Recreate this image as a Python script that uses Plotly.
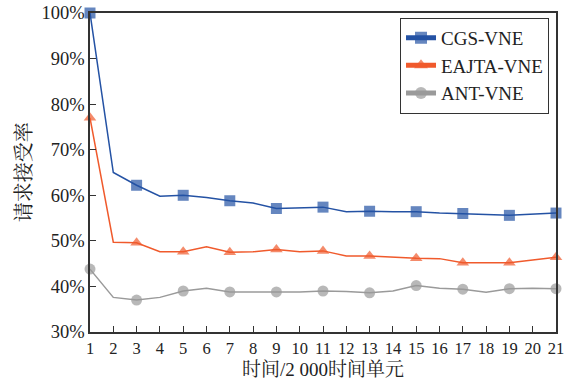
import plotly.graph_objects as go

x_vals = list(range(1, 22))
cgs = [100, 65, 62.2, 59.8, 60, 59.5, 58.8, 58.3, 57.1, 57.2, 57.4, 56.4, 56.5, 56.4, 56.4, 56.1, 56.0, 55.8, 55.6, 55.8, 56.1]
eajta = [77, 49.7, 49.6, 47.6, 47.6, 48.7, 47.5, 47.6, 48.1, 47.6, 47.8, 46.7, 46.7, 46.4, 46.2, 46.1, 45.2, 45.2, 45.2, 45.8, 46.4]
ant = [43.8, 37.6, 37.0, 37.6, 39.0, 39.6, 38.8, 38.8, 38.8, 38.8, 39.0, 38.9, 38.6, 39.0, 40.2, 39.6, 39.4, 38.7, 39.5, 39.6, 39.5]

names = ["CGS-VNE", "EAJTA-VNE", "ANT-VNE"]
colors = ["#2452a4", "#f05a2c", "#9a9a9a"]
symbols = ["square", "triangle-up", "circle"]

font_fam = "Liberation Serif, Noto Serif CJK SC, Noto Sans CJK SC, serif"

fig = go.Figure()
for name, ys, c, s in zip(names, [cgs, eajta, ant], colors, symbols):
    sizes = [11 if (xv % 2 == 1) else 0 for xv in x_vals]
    fig.add_trace(go.Scatter(
        x=x_vals, y=ys, name=name, mode="lines+markers",
        line=dict(color=c, width=1.5),
        marker=dict(symbol=s, color=c, size=sizes, line=dict(width=0)),
        cliponaxis=False,
    ))

axis_common = dict(showgrid=False, zeroline=False, showline=True, mirror=True,
                   linecolor="#333333", linewidth=1.5, ticks="inside", ticklen=6,
                   tickcolor="#333333", automargin=False, ticklabeloverflow="allow")

fig.update_layout(
    width=566, height=379,
    margin=dict(l=90, r=10, t=13, b=47),
    paper_bgcolor="white", plot_bgcolor="white",
    font=dict(family=font_fam, color="#222"),
    xaxis=dict(range=[1, 21], tickmode="linear", tick0=1, dtick=1,
               tickfont=dict(family=font_fam, size=16.5, color="#222"), **axis_common),
    yaxis=dict(range=[30, 100], tickmode="linear", tick0=30, dtick=10, ticksuffix="%",
               tickfont=dict(family=font_fam, size=18.5, color="#222"), **axis_common),
    legend=dict(x=0.985, y=0.985, xanchor="right", yanchor="top",
                bordercolor="#333", borderwidth=1, bgcolor="white",
                font=dict(family=font_fam, size=19), tracegroupgap=0,
                itemsizing="constant"),
    showlegend=True,
    annotations=[
        dict(text="时间/2 000时间单元", x=0.5, y=-0.118, xref="paper", yref="paper",
             xanchor="center", yanchor="middle", showarrow=False,
             font=dict(family=font_fam, size=19, color="#222")),
        dict(text="请求接受率", x=-0.142, y=0.5, xref="paper", yref="paper",
             xanchor="center", yanchor="middle", textangle=-90, showarrow=False,
             font=dict(family=font_fam, size=20, color="#222")),
    ],
)

fig.write_html("out.html", config={"displayModeBar": False},
               post_script="document.body.style.margin='0';")
